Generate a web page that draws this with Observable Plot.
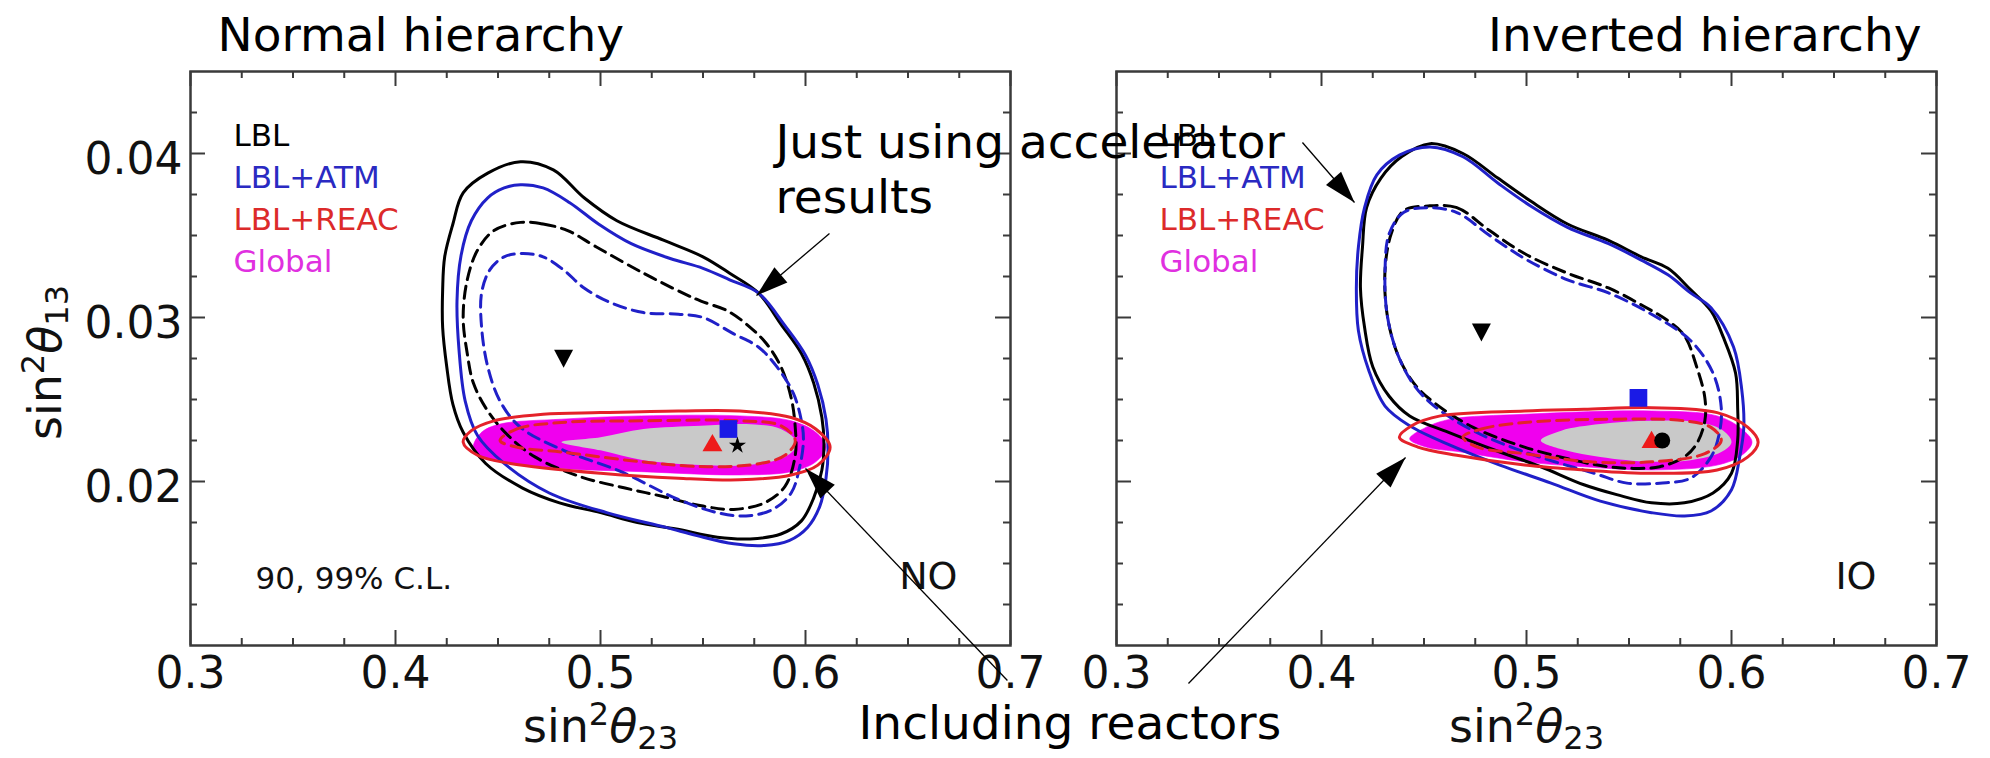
<!DOCTYPE html>
<html>
<head>
<meta charset="utf-8">
<script src="https://cdn.jsdelivr.net/npm/d3@7"></script>
<script src="https://cdn.jsdelivr.net/npm/@observablehq/plot@0.6"></script>
<style>
  html, body { margin: 0; padding: 0; background: #ffffff; }
  #chart { width: 1990px; height: 758px; overflow: hidden; }
</style>
</head>
<body>
<div id="chart"></div>
<script>
// ---------------- data ----------------
const panels = ["NO", "IO"];
const panelTitles = ["Normal hierarchy", "Inverted hierarchy"];
const panelTags = ["NO", "IO"];
const clNote = "90, 99% C.L.";

const xMajor = [0.3, 0.4, 0.5, 0.6, 0.7];
const xMinor = [0.325, 0.35, 0.375, 0.425, 0.45, 0.475, 0.525, 0.55, 0.575, 0.625, 0.65, 0.675];
const yMajor = [0.02, 0.03, 0.04];
const yMinor = [0.0125, 0.015, 0.0175, 0.0225, 0.025, 0.0275, 0.0325, 0.035, 0.0375, 0.0425];

const xLabelParts = ["sin", "2", "θ", "23"];
const yLabelParts = ["sin", "2", "θ", "13"];

const legendLabels = ["LBL", "LBL+ATM", "LBL+REAC", "Global"];
const legendColors = ["#000000", "#2a2ac2", "#dc2a2a", "#e030e0"];

// Normal ordering contours [sin^2 th23, sin^2 th13]
const noLBL99 = [[0.461,0.0395],[0.477,0.0390],[0.492,0.0373],[0.508,0.0359],[0.531,0.0347],[0.550,0.0337],[0.563,0.0327],[0.577,0.0315],[0.588,0.0296],[0.598,0.0278],[0.604,0.0260],[0.608,0.0239],[0.609,0.0223],[0.608,0.0207],[0.604,0.0190],[0.598,0.0176],[0.588,0.0168],[0.573,0.0165],[0.557,0.0166],[0.537,0.0171],[0.518,0.0175],[0.500,0.0181],[0.480,0.0187],[0.462,0.0196],[0.444,0.0211],[0.433,0.0230],[0.428,0.0247],[0.425,0.0270],[0.423,0.0294],[0.423,0.0317],[0.424,0.0337],[0.428,0.0357],[0.433,0.0376],[0.445,0.0388]];
const noATM99 = [[0.461,0.0381],[0.472,0.0379],[0.485,0.0370],[0.499,0.0357],[0.515,0.0345],[0.534,0.0336],[0.550,0.0330],[0.563,0.0323],[0.577,0.0315],[0.590,0.0295],[0.600,0.0277],[0.606,0.0259],[0.610,0.0238],[0.611,0.0220],[0.610,0.0202],[0.607,0.0185],[0.601,0.0172],[0.592,0.0164],[0.580,0.0161],[0.565,0.0162],[0.547,0.0167],[0.532,0.0172],[0.503,0.0181],[0.475,0.0193],[0.453,0.0211],[0.440,0.0228],[0.434,0.0249],[0.431,0.0280],[0.430,0.0310],[0.432,0.0338],[0.437,0.0359],[0.445,0.0373],[0.453,0.0379]];
const noLBL90 = [[0.461,0.0358],[0.472,0.0357],[0.484,0.0353],[0.498,0.0343],[0.521,0.0327],[0.540,0.0315],[0.549,0.0310],[0.562,0.0304],[0.573,0.0294],[0.581,0.0284],[0.588,0.0270],[0.593,0.0251],[0.595,0.0233],[0.595,0.0216],[0.590,0.0197],[0.580,0.0187],[0.565,0.0183],[0.550,0.0185],[0.530,0.0191],[0.512,0.0196],[0.490,0.0203],[0.468,0.0215],[0.455,0.0228],[0.445,0.0243],[0.438,0.0260],[0.435,0.0278],[0.433,0.0300],[0.435,0.0323],[0.440,0.0341],[0.448,0.0353]];
const noATM90 = [[0.462,0.0339],[0.472,0.0337],[0.482,0.0329],[0.492,0.0318],[0.505,0.0309],[0.521,0.0303],[0.538,0.0302],[0.550,0.0300],[0.565,0.0290],[0.577,0.0282],[0.586,0.0270],[0.594,0.0254],[0.598,0.0237],[0.599,0.0225],[0.597,0.0208],[0.593,0.0193],[0.584,0.0183],[0.571,0.0179],[0.557,0.0181],[0.538,0.0189],[0.510,0.0206],[0.482,0.0219],[0.461,0.0233],[0.451,0.0249],[0.445,0.0270],[0.442,0.0294],[0.442,0.0315],[0.446,0.0329],[0.453,0.0337]];
const noREAC99 = [[0.433,0.0224],[0.437,0.0231],[0.448,0.0237],[0.472,0.0241],[0.500,0.0242],[0.538,0.0243],[0.568,0.0243],[0.593,0.0239],[0.605,0.0232],[0.612,0.0221],[0.606,0.0210],[0.593,0.0204],[0.568,0.0201],[0.538,0.0202],[0.500,0.0205],[0.456,0.0211],[0.440,0.0216]];
const noREAC90 = [[0.451,0.0225],[0.459,0.0232],[0.481,0.0236],[0.520,0.0237],[0.568,0.0237],[0.588,0.0234],[0.595,0.0225],[0.590,0.0216],[0.578,0.0211],[0.552,0.0209],[0.520,0.0212],[0.481,0.0218],[0.459,0.0221]];
const noGLOB99 = [[0.438,0.0221],[0.442,0.0230],[0.451,0.0235],[0.481,0.0238],[0.520,0.0240],[0.568,0.0240],[0.593,0.0237],[0.605,0.0230],[0.610,0.0221],[0.605,0.0212],[0.593,0.0206],[0.568,0.0204],[0.520,0.0206],[0.481,0.0208],[0.451,0.0212],[0.442,0.0215]];
const noGLOB90 = [[0.481,0.0224],[0.500,0.0227],[0.521,0.0232],[0.549,0.0234],[0.571,0.0235],[0.588,0.0232],[0.596,0.0223],[0.590,0.0215],[0.571,0.0210],[0.549,0.0210],[0.521,0.0213],[0.500,0.0219]];

// Inverted ordering contours
const ioLBL99 = [[0.453,0.0406],[0.469,0.0400],[0.486,0.0385],[0.502,0.0371],[0.520,0.0357],[0.540,0.0347],[0.556,0.0337],[0.569,0.0330],[0.580,0.0317],[0.590,0.0304],[0.596,0.0288],[0.602,0.0266],[0.603,0.0245],[0.603,0.0225],[0.600,0.0205],[0.591,0.0193],[0.577,0.0187],[0.561,0.0187],[0.544,0.0192],[0.528,0.0198],[0.507,0.0209],[0.487,0.0218],[0.462,0.0230],[0.443,0.0240],[0.433,0.0252],[0.425,0.0270],[0.421,0.0294],[0.419,0.0318],[0.420,0.0343],[0.422,0.0367],[0.429,0.0385],[0.439,0.0398]];
const ioATM99 = [[0.453,0.0404],[0.469,0.0398],[0.486,0.0382],[0.502,0.0368],[0.520,0.0355],[0.540,0.0345],[0.556,0.0335],[0.569,0.0326],[0.580,0.0315],[0.590,0.0306],[0.601,0.0282],[0.605,0.0256],[0.606,0.0233],[0.604,0.0215],[0.600,0.0195],[0.590,0.0182],[0.577,0.0179],[0.561,0.0181],[0.536,0.0188],[0.512,0.0199],[0.487,0.0210],[0.463,0.0222],[0.443,0.0234],[0.431,0.0246],[0.423,0.0268],[0.418,0.0292],[0.417,0.0318],[0.418,0.0343],[0.421,0.0367],[0.427,0.0387],[0.438,0.0399]];
const ioLBL90 = [[0.452,0.0368],[0.466,0.0367],[0.482,0.0353],[0.499,0.0339],[0.520,0.0327],[0.540,0.0318],[0.557,0.0307],[0.569,0.0298],[0.577,0.0289],[0.583,0.0270],[0.587,0.0251],[0.587,0.0237],[0.583,0.0223],[0.577,0.0215],[0.565,0.0209],[0.552,0.0208],[0.540,0.0209],[0.523,0.0213],[0.499,0.0221],[0.474,0.0233],[0.455,0.0248],[0.445,0.0260],[0.437,0.0278],[0.432,0.0302],[0.431,0.0329],[0.434,0.0351],[0.440,0.0365]];
const ioATM90 = [[0.452,0.0367],[0.466,0.0364],[0.482,0.0350],[0.499,0.0336],[0.520,0.0323],[0.540,0.0315],[0.561,0.0302],[0.580,0.0286],[0.591,0.0266],[0.595,0.0245],[0.594,0.0229],[0.590,0.0215],[0.580,0.0202],[0.565,0.0199],[0.549,0.0199],[0.533,0.0205],[0.499,0.0218],[0.474,0.0231],[0.455,0.0246],[0.445,0.0259],[0.437,0.0278],[0.432,0.0302],[0.431,0.0329],[0.433,0.0351],[0.440,0.0364]];
const ioREAC99 = [[0.438,0.0227],[0.444,0.0234],[0.458,0.0240],[0.499,0.0243],[0.528,0.0244],[0.561,0.0245],[0.593,0.0242],[0.608,0.0233],[0.613,0.0224],[0.608,0.0215],[0.593,0.0207],[0.561,0.0205],[0.528,0.0207],[0.499,0.0210],[0.466,0.0216],[0.447,0.0221]];
const ioREAC90 = [[0.469,0.0227],[0.478,0.0232],[0.499,0.0236],[0.544,0.0238],[0.577,0.0237],[0.590,0.0233],[0.595,0.0225],[0.587,0.0217],[0.561,0.0212],[0.531,0.0212],[0.499,0.0217],[0.476,0.0221]];
const ioGLOB99 = [[0.443,0.0226],[0.451,0.0233],[0.463,0.0238],[0.499,0.0241],[0.561,0.0243],[0.593,0.0240],[0.605,0.0232],[0.610,0.0224],[0.605,0.0216],[0.593,0.0210],[0.561,0.0207],[0.528,0.0209],[0.499,0.0212],[0.468,0.0218],[0.451,0.0221]];
const ioGLOB90 = [[0.507,0.0225],[0.517,0.0231],[0.536,0.0235],[0.561,0.0237],[0.585,0.0236],[0.596,0.0231],[0.600,0.0224],[0.595,0.0218],[0.580,0.0213],[0.561,0.0212],[0.536,0.0215],[0.519,0.0219]];

// best-fit points: LBL, LBL+ATM, LBL+REAC, Global
const bestNO = [[0.482,0.0276],[0.5624,0.0232],[0.5546,0.0222],[0.5668,0.0222]];
const bestIO = [[0.478,0.0292],[0.5546,0.0251],[0.561,0.0224],[0.5662,0.0225]];

// annotations
const annotationTexts = ["Just using accelerator\nresults", "Including reactors"];
const arrows = [
  {panel: "NO", u1: 0.6117, v1: 0.03512, u2: 0.5761, v2: 0.03134},
  {panel: "IO", u1: 0.3907, v1: 0.04067, u2: 0.4161, v2: 0.03701},
  {panel: "NO", u1: 0.6985, v1: 0.00787, u2: 0.6000, v2: 0.02079},
  {panel: "IO", u1: 0.3351, v1: 0.00768, u2: 0.4410, v2: 0.02146}
];

// ---------------- layout & style ----------------
const W = 1990, H = 758;
const ML = 190, MR = 54, MT = 71, MB = 113;
const PANEL_W = 820, GAP = 106;
const X_DOMAIN = [0.3, 0.7], Y_DOMAIN = [0.01, 0.045];
const uPerPx = (X_DOMAIN[1] - X_DOMAIN[0]) / PANEL_W;
const vPerPx = (Y_DOMAIN[1] - Y_DOMAIN[0]) / (H - MT - MB);

const BLACK = "#000000", BLUE = "#2020c8", RED = "#e4222a", MAGENTA = "#f000ee", GRAY = "#c9c9c9";
const FRAME = "#3a3a3a";
const FONT = "DejaVu Sans";

function rows(noPts, ioPts) {
  return [
    ...noPts.map(([u, v]) => ({panel: "NO", u, v})),
    ...ioPts.map(([u, v]) => ({panel: "IO", u, v}))
  ];
}
const contourBase = {x: "u", y: "v", fx: "panel", z: "panel", curve: "catmull-rom-closed"};
function contour(noPts, ioPts, opts) {
  return Plot.line(rows(noPts, ioPts), {...contourBase, ...opts});
}

function ticksX(vals, len) {
  return [
    Plot.ruleX(vals, {x: d => d, y1: () => Y_DOMAIN[0], y2: () => Y_DOMAIN[0] + len * vPerPx, stroke: FRAME, strokeWidth: 2}),
    Plot.ruleX(vals, {x: d => d, y1: () => Y_DOMAIN[1], y2: () => Y_DOMAIN[1] - len * vPerPx, stroke: FRAME, strokeWidth: 2})
  ];
}
function ticksY(vals, len) {
  return [
    Plot.ruleY(vals, {y: d => d, x1: () => X_DOMAIN[0], x2: () => X_DOMAIN[0] + len * uPerPx, stroke: FRAME, strokeWidth: 2}),
    Plot.ruleY(vals, {y: d => d, x1: () => X_DOMAIN[1], x2: () => X_DOMAIN[1] - len * uPerPx, stroke: FRAME, strokeWidth: 2})
  ];
}

// custom symbols
const triDown = {draw(ctx) { ctx.moveTo(-9.5, -7); ctx.lineTo(9.5, -7); ctx.lineTo(0, 11); ctx.closePath(); }};
function headSymbol(a) {
  const dx = (a.u2 - a.u1) / uPerPx, dy = -(a.v2 - a.v1) / vPerPx;
  const len = Math.hypot(dx, dy), ux = dx / len, uy = dy / len;
  const L = 32, hw = 10;
  return {draw(ctx) {
    ctx.moveTo(0, 0);
    ctx.lineTo(-L * ux - hw * uy, -L * uy + hw * ux);
    ctx.lineTo(-L * ux + hw * uy, -L * uy - hw * ux);
    ctx.closePath();
  }};
}

const bestRows = (i) => [
  {panel: "NO", u: bestNO[i][0], v: bestNO[i][1]},
  {panel: "IO", u: bestIO[i][0], v: bestIO[i][1]}
];

const dash = "12,7";

const marks = [
  // filled global regions
  contour(noGLOB99, ioGLOB99, {fill: MAGENTA, stroke: MAGENTA, strokeWidth: 1, strokeOpacity: 0.6}),
  contour(noGLOB90, ioGLOB90, {fill: GRAY, stroke: "none"}),
  // LBL and LBL+ATM contours
  contour(noLBL99, ioLBL99, {stroke: BLACK, strokeWidth: 3, fill: "none"}),
  contour(noATM99, ioATM99, {stroke: BLUE, strokeWidth: 3, fill: "none"}),
  contour(noLBL90, ioLBL90, {stroke: BLACK, strokeWidth: 3, fill: "none", strokeDasharray: dash}),
  contour(noATM90, ioATM90, {stroke: BLUE, strokeWidth: 3, fill: "none", strokeDasharray: dash, strokeDashoffset: 9}),
  // LBL+REAC contours
  contour(noREAC99, ioREAC99, {stroke: RED, strokeWidth: 3, fill: "none"}),
  contour(noREAC90, ioREAC90, {stroke: RED, strokeWidth: 3, fill: "none", strokeDasharray: dash}),
  // frame and ticks
  Plot.frame({stroke: FRAME, strokeWidth: 2.5}),
  ...ticksX(xMajor, 15), ...ticksX(xMinor, 7),
  ...ticksY(yMajor, 15), ...ticksY(yMinor, 7),
  // tick labels
  Plot.text(xMajor, {x: d => d, frameAnchor: "bottom", text: d => String(d), dy: 42, lineAnchor: "bottom", textAnchor: "middle", fontSize: 44, fill: "#111"}),
  Plot.text(yMajor.map(v => ({panel: "NO", v})), {fx: "panel", y: "v", frameAnchor: "left", text: d => String(d.v), dx: -8, dy: 20, lineAnchor: "bottom", textAnchor: "end", fontSize: 44, fill: "#111"}),
  // axis titles
  Plot.text(panels.map(p => ({panel: p})), {fx: "panel", frameAnchor: "bottom", text: () => xLabelParts.join(""), dy: 96, lineAnchor: "bottom", textAnchor: "middle", fontSize: 46, fill: "#111"}),
  Plot.text([{panel: "NO"}], {fx: "panel", frameAnchor: "left", text: () => yLabelParts.join(""), rotate: -90, dx: -130, dy: 4, lineAnchor: "bottom", textAnchor: "middle", fontSize: 46, fill: "#111"}),
  // best-fit markers
  Plot.dot(bestRows(0), {x: "u", y: "v", fx: "panel", symbol: triDown, r: 5, fill: BLACK, stroke: "none"}),
  Plot.dot(bestRows(1), {x: "u", y: "v", fx: "panel", symbol: "square", r: 10, fill: "#1a1ae6", stroke: "none"}),
  Plot.dot(bestRows(2), {x: "u", y: "v", fx: "panel", symbol: "triangle", r: 7.4, fill: "#ee1a1a", stroke: "none"}),
  Plot.dot(bestRows(3).filter(d => d.panel === "NO"), {x: "u", y: "v", fx: "panel", symbol: "star", r: 5.4, fill: BLACK, stroke: "none"}),
  Plot.dot(bestRows(3).filter(d => d.panel === "IO"), {x: "u", y: "v", fx: "panel", symbol: "circle", r: 8, fill: BLACK, stroke: "none"}),
  // legend (repeated in both panels)
  ...legendLabels.map((label, i) => Plot.text([label], {frameAnchor: "top-left", text: d => d, dx: 43, dy: 74 + i * 42.3, lineAnchor: "bottom", textAnchor: "start", fontSize: 31, fill: legendColors[i]})),
  // C.L. note and ordering tags
  Plot.text([{panel: "NO", t: clNote}], {fx: "panel", text: "t", frameAnchor: "bottom-left", dx: 65, dy: -57, lineAnchor: "bottom", textAnchor: "start", fontSize: 31, fill: "#111"}),
  Plot.text([{panel: "NO", t: panelTags[0]}], {fx: "panel", text: "t", frameAnchor: "bottom-right", dx: -53, dy: -57, lineAnchor: "bottom", textAnchor: "end", fontSize: 38, fill: "#111"}),
  Plot.text([{panel: "IO", t: panelTags[1]}], {fx: "panel", text: "t", frameAnchor: "bottom-right", dx: -60, dy: -57, lineAnchor: "bottom", textAnchor: "end", fontSize: 38, fill: "#111"}),
  // panel titles
  Plot.text([{panel: "NO", t: panelTitles[0]}], {fx: "panel", text: "t", frameAnchor: "top-left", dx: 27, dy: -21, lineAnchor: "bottom", textAnchor: "start", fontSize: 47, fill: "#000"}),
  Plot.text([{panel: "IO", t: panelTitles[1]}], {fx: "panel", text: "t", frameAnchor: "top-right", dx: -15, dy: -21, lineAnchor: "bottom", textAnchor: "end", fontSize: 47, fill: "#000"}),
  // annotations
  Plot.link(arrows, {x1: "u1", y1: "v1", x2: "u2", y2: "v2", fx: "panel", stroke: "#000", strokeWidth: 1.3}),
  ...arrows.map(a => Plot.dot([a], {x: "u2", y: "v2", fx: "panel", symbol: headSymbol(a), r: 5, fill: "#000", stroke: "none"})),
  Plot.text([{panel: "NO", t: annotationTexts[0]}], {fx: "panel", text: "t", frameAnchor: "top-left", dx: 585, dy: 141, lineAnchor: "bottom", lineHeight: 1.17, textAnchor: "start", fontSize: 47, fill: "#000"}),
  Plot.text([{panel: "NO", t: annotationTexts[1]}], {fx: "panel", text: "t", frameAnchor: "bottom-left", dx: 668, dy: 93, lineAnchor: "bottom", textAnchor: "start", fontSize: 47, fill: "#000"})
];

const svg = Plot.plot({
  width: W,
  height: H,
  marginLeft: ML,
  marginRight: MR,
  marginTop: MT,
  marginBottom: MB,
  fx: {domain: panels, paddingInner: GAP / (PANEL_W + GAP), paddingOuter: 0, round: false, axis: null, label: null},
  x: {domain: X_DOMAIN, axis: null},
  y: {domain: Y_DOMAIN, axis: null},
  style: {fontFamily: FONT, background: "#ffffff", color: "#000", overflow: "visible"},
  marks
});

// typeset axis titles with superscript / subscript / italic theta
function typeset(textEl, parts, size) {
  const NS = "http://www.w3.org/2000/svg";
  while (textEl.firstChild) textEl.removeChild(textEl.firstChild);
  const add = (str, attrs) => {
    const t = document.createElementNS(NS, "tspan");
    for (const k in attrs) t.setAttribute(k, attrs[k]);
    t.textContent = str;
    textEl.appendChild(t);
  };
  const small = Math.round(size * 0.7);
  add(parts[0], {});
  add(parts[1], {"font-size": small, dy: -Math.round(size * 0.38)});
  add(parts[2], {"font-style": "italic", dy: Math.round(size * 0.38)});
  add(parts[3], {"font-size": small, dy: Math.round(size * 0.15)});
}
const xTitle = xLabelParts.join(""), yTitle = yLabelParts.join("");
svg.querySelectorAll("text").forEach(t => {
  if (t.textContent === xTitle) typeset(t, xLabelParts, 46);
  else if (t.textContent === yTitle) typeset(t, yLabelParts, 46);
});

document.getElementById("chart").appendChild(svg);
</script>
</body>
</html>
